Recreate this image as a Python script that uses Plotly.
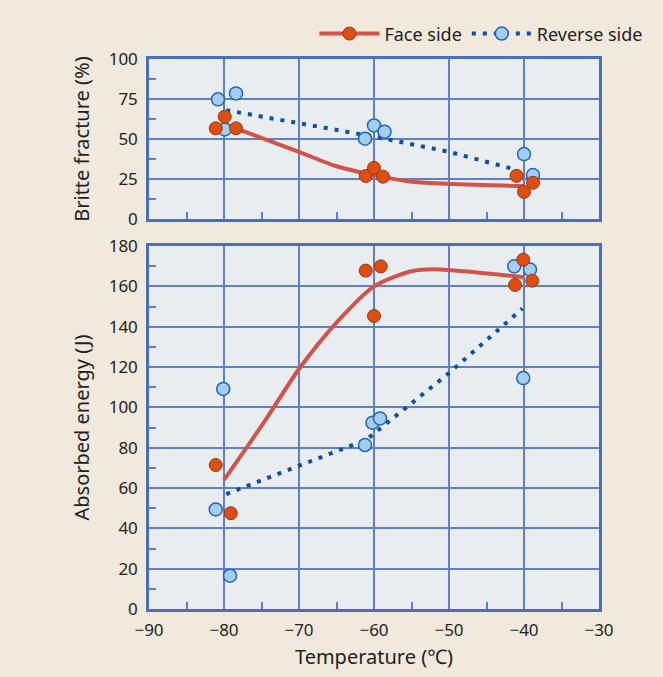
import plotly.graph_objects as go

# ---- data ----
temp_face_top = [-81.1, -79.9, -78.4, -61.1, -60.0, -58.8, -41.0, -40.0, -38.8]
brittle_face = [56.7, 64.0, 56.7, 26.9, 32.0, 26.5, 27.0, 17.0, 22.7]
temp_rev_top = [-80.8, -78.4, -79.9, -61.2, -60.0, -58.6, -40.0, -38.8]
brittle_rev = [74.8, 78.5, 56.0, 50.2, 58.5, 54.6, 40.6, 27.5]

trend_face_top_t = [-79.5, -70, -65, -60, -55, -40.1]
trend_face_top_v = [58.5, 42.0, 33.0, 27.5, 23.3, 20.6]
trend_rev_top_t = [-79.7, -60, -50, -41.2]
trend_rev_top_v = [68.0, 51.5, 42.0, 31.0]

temp_face_bot = [-81.1, -79.1, -61.1, -59.1, -60.0, -40.1, -41.2, -38.9]
energy_face = [71.4, 47.5, 167.8, 169.9, 145.3, 173.2, 160.7, 162.8]
temp_rev_bot = [-81.1, -79.2, -80.1, -61.2, -60.2, -59.2, -41.3, -39.2, -40.1]
energy_rev = [49.4, 16.5, 109.1, 81.3, 92.4, 94.5, 169.9, 168.3, 114.5]

trend_face_bot_t = [-80, -74.5, -70, -65, -60, -55, -52, -40.1]
trend_face_bot_v = [64.0, 93.5, 119.0, 142.0, 160.0, 167.5, 168.5, 164.5]
trend_rev_bot_t = [-79.7, -70, -61, -50, -40.2]
trend_rev_bot_v = [57.0, 71.0, 84.0, 117.0, 149.0]

# ---- styles ----
FACE_LINE = "#d2534a"
FACE_FILL = "#dd4e10"
FACE_EDGE = "#9a3717"
REV_LINE = "#0b4fa6"
REV_FILL = "#a5cdf0"
REV_EDGE = "#1d66bd"
GRID = "#5f80c8"
BORDER = "#4a6dbd"
TXT = "#231f20"
FONT = "Noto Sans"

face_marker = dict(size=13, color=FACE_FILL, line=dict(color=FACE_EDGE, width=1))
rev_marker = dict(size=13, color=REV_FILL, line=dict(color=REV_EDGE, width=1.5))
face_line = dict(color=FACE_LINE, width=4, shape="spline", smoothing=0.8)
rev_line = dict(color=REV_LINE, width=4, dash="4px,7px")

fig = go.Figure()

# top panel
fig.add_trace(go.Scatter(x=trend_rev_top_t, y=trend_rev_top_v, mode="lines", line=rev_line,
                         xaxis="x2", yaxis="y2", showlegend=False, hoverinfo="skip"))
fig.add_trace(go.Scatter(x=trend_face_top_t, y=trend_face_top_v, mode="lines", line=face_line,
                         xaxis="x2", yaxis="y2", showlegend=False, hoverinfo="skip"))
fig.add_trace(go.Scatter(x=temp_rev_top, y=brittle_rev, mode="markers", marker=rev_marker,
                         xaxis="x2", yaxis="y2", showlegend=False))
fig.add_trace(go.Scatter(x=temp_face_top, y=brittle_face, mode="markers", marker=face_marker,
                         xaxis="x2", yaxis="y2", showlegend=False))

# bottom panel
fig.add_trace(go.Scatter(x=trend_rev_bot_t, y=trend_rev_bot_v, mode="lines", line=rev_line,
                         xaxis="x", yaxis="y", showlegend=False, hoverinfo="skip"))
fig.add_trace(go.Scatter(x=trend_face_bot_t, y=trend_face_bot_v, mode="lines", line=face_line,
                         xaxis="x", yaxis="y", showlegend=False, hoverinfo="skip"))
fig.add_trace(go.Scatter(x=temp_rev_bot, y=energy_rev, mode="markers", marker=rev_marker,
                         xaxis="x", yaxis="y", showlegend=False))
fig.add_trace(go.Scatter(x=temp_face_bot, y=energy_face, mode="markers", marker=face_marker,
                         xaxis="x", yaxis="y", showlegend=False))

# legend entries
fig.add_trace(go.Scatter(x=[None], y=[None], mode="lines+markers", name="Face side",
                         line=dict(color=FACE_LINE, width=4), marker=face_marker))
fig.add_trace(go.Scatter(x=[None], y=[None], mode="lines+markers", name="Reverse side",
                         line=rev_line, marker=rev_marker))

tickfont = dict(family=FONT, size=17, color=TXT)
titlefont = dict(family=FONT, size=20, color=TXT)
common_x = dict(range=[-90, -30], dtick=10, tick0=-90, showgrid=True, gridcolor=GRID, gridwidth=1.5,
                showline=True, linecolor=BORDER, linewidth=2.5, mirror=True, zeroline=False,
                ticks="", minor=dict(dtick=5, tick0=-90, ticks="inside", ticklen=7,
                                      tickcolor=GRID, tickwidth=1.5, showgrid=False),
                tickfont=tickfont, ticklabelstandoff=4)
common_y = dict(showgrid=True, gridcolor=GRID, gridwidth=1.5, showline=True, linecolor=BORDER,
                linewidth=2.5, mirror=True, zeroline=False, ticks="", tickfont=tickfont,
                ticklabelstandoff=5)

fig.update_layout(
    width=663, height=677,
    paper_bgcolor="#f1e9dc", plot_bgcolor="#e9edf0",
    margin=dict(l=149, r=64, t=59, b=68, autoexpand=False),
    font=dict(family=FONT, size=17, color=TXT),
    xaxis=dict(**common_x, anchor="y",
               title=dict(text="Temperature (℃)", font=titlefont, standoff=10)),
    xaxis2=dict(**common_x, anchor="y2", matches="x", showticklabels=False),
    yaxis=dict(**common_y, domain=[0, 0.66], range=[0, 180], dtick=20,
               minor=dict(dtick=10, ticks="inside", ticklen=7, tickcolor=GRID, tickwidth=1.5, showgrid=False),
               title=dict(text="Absorbed energy (J)", font=titlefont, standoff=14)),
    yaxis2=dict(**common_y, domain=[0.709, 1], range=[0, 100], dtick=25,
                minor=dict(dtick=12.5, ticks="inside", ticklen=7, tickcolor=GRID, tickwidth=1.5, showgrid=False),
                title=dict(text="Britte fracture (%)", font=titlefont, standoff=14)),
    legend=dict(orientation="h", xref="container", yref="container", x=0.978, xanchor="right",
                y=0.95, yanchor="middle", bgcolor="rgba(0,0,0,0)",
                font=dict(family=FONT, size=18, color=TXT), itemwidth=60, tracegroupgap=0),
)

fig.write_html("out.html", config={"displayModeBar": False},
               post_script="document.body.style.margin='0';")
